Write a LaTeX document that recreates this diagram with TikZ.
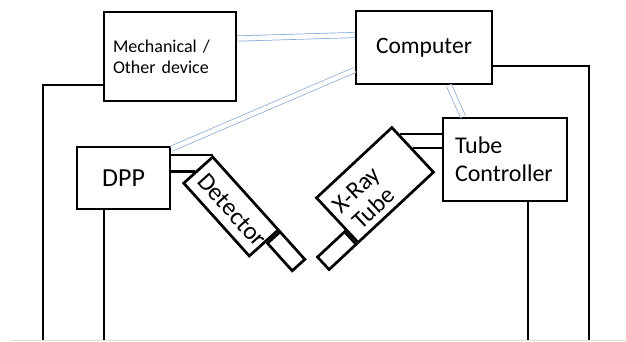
\documentclass[tikz,border=0pt]{standalone}
\usepackage{fontspec}
\setmainfont{Carlito}
\usetikzlibrary{calc}
\definecolor{linkblue}{RGB}{130,165,215}
\definecolor{baseg}{RGB}{222,222,222}
\begin{document}
\begin{tikzpicture}[x=1pt,y=-1pt,
  box/.style={draw, line width=2.7pt, inner sep=0pt},
  wire/.style={line width=2.6pt},
  link/.style={draw=linkblue, line width=0.7pt, double=white, double distance=4.6pt}]
\useasboundingbox (0,0) rectangle (626,341);
\draw[baseg, line width=0.8pt] (12,340) -- (626,340);
% boxes
\node[box, minimum width=132pt, minimum height=89pt, text width=114pt, align=left,
      font=\fontsize{18}{21}\selectfont] (mech) at (170,56.5) {Mechanical /\\Other device};
\node[box, minimum width=136pt, minimum height=73pt,
      font=\fontsize{23.5}{28}\selectfont] (comp) at (424,47.5) {Computer};
\node[box, minimum width=93pt, minimum height=62pt,
      font=\fontsize{26}{30}\selectfont] (dpp) at (123.5,178) {DPP};
\node[box, minimum width=124pt, minimum height=83pt, text width=100pt, align=left,
      font=\fontsize{24}{28}\selectfont] (tc) at (505,159.5) {Tube\\Controller};
\node[box, rotate=-48, minimum width=98pt, minimum height=39pt] (det) at (231,206.5) {};
\node[box, rotate=-48, minimum width=37pt, minimum height=17pt, anchor=north west] (detcap) at (det.north east) {};
\node[rotate=-48, inner sep=0pt, font=\fontsize{25}{30}\selectfont] (dettext) at ($(det.center)+(1,3.5)$) {Detector};
\node[box, rotate=43, minimum width=103pt, minimum height=61pt] (xray) at (375,185) {};
\node[box, rotate=43, minimum width=37pt, minimum height=17pt, anchor=south east] (xraycap) at (xray.south west) {};
\node[rotate=43, inner sep=0pt, align=center, font=\fontsize{24.5}{25.5}\selectfont] (xraytext) at ($(xray.center)+(-10,14)$) {X-Ray\\Tube};
% ground coordinates
\coordinate (bl1) at (43,340);
\coordinate (bl2) at (104,340);
\coordinate (br1) at (528,340);
\coordinate (br2) at (589,340);
% black wires
\draw[wire] ([yshift=-28.5pt]mech.west) -| (bl1);
\draw[wire] ([yshift=-18.5pt]comp.east) -| (br2);
\draw[wire] (bl2 |- dpp.south) -- (bl2);
\draw[wire] (br1 |- tc.south) -- (br1);
\coordinate (detin) at ($(det.north west)!0.58!(det.south west)$);
\draw[wire] (det.north west -| dpp.east) -- (det.north west);
\draw[wire] (detin -| dpp.east) -- (detin);
\coordinate (xin1) at ($(xray.north east)!0.18!(xray.south east)$);
\coordinate (xin2) at ($(xray.north east)!0.48!(xray.south east)$);
\draw[wire] (xin1) -- (xin1 -| tc.west);
\draw[wire] (xin2) -- (xin2 -| tc.west);
% blue links
\draw[link] ([yshift=18pt]mech.east) -- ([yshift=12.5pt]comp.west);
\draw[link] ([yshift=-22.5pt]comp.west) -- ([yshift=-3pt]dpp.north east);
\draw[link] ([xshift=25pt]comp.south) -- ([xshift=-42pt]tc.north);
\end{tikzpicture}
\end{document}
